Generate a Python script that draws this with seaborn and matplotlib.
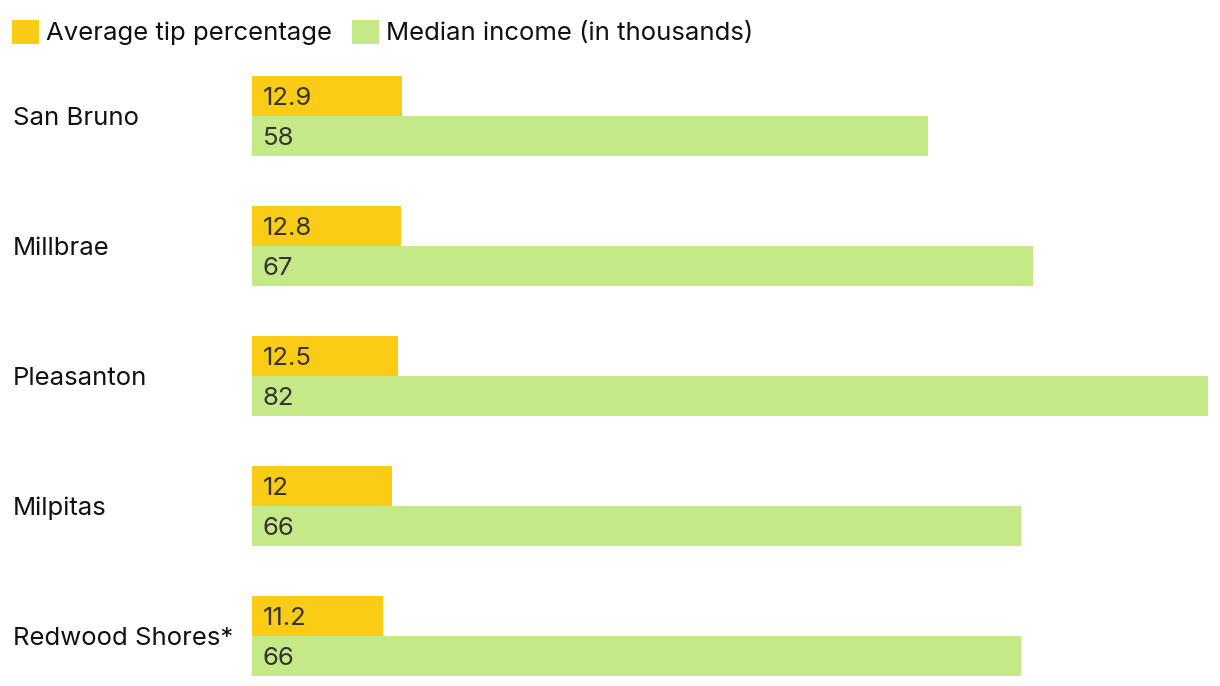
import numpy as np
import pandas as pd
import matplotlib
matplotlib.use('Agg')
import matplotlib.pyplot as plt
import seaborn as sns

cities = ['San Bruno', 'Millbrae', 'Pleasanton', 'Milpitas', 'Redwood Shores*']
tip_pct = [12.9, 12.8, 12.5, 12, 11.2]
income_k = [58, 67, 82, 66, 66]
series = ['Average tip percentage', 'Median income (in thousands)']
colors = ['#FACC15', '#C5E987']

sns.set_style('white')
plt.rcParams['font.family'] = ['Inter', 'DejaVu Sans']

df = pd.DataFrame({
    'city': cities * 2,
    'value': tip_pct + income_k,
    'series': [series[0]] * len(cities) + [series[1]] * len(cities),
})

W, H = 1220, 686
FS = 18.5
fig = plt.figure(figsize=(W / 100, H / 100), dpi=100)
ax = fig.add_axes([252 / W, 0, 956 / W, 1])

sns.barplot(data=df, x='value', y='city', hue='series', palette=colors,
            orient='h', width=80 / 130, dodge=True, ax=ax, legend=False,
            saturation=1, linewidth=0)

ax.set_xlim(0, 82)
ax.set_ylim(4 + 50 / 130, -116 / 130)
sns.despine(ax=ax, left=True, bottom=True)
ax.set_xticks([])
ax.set_xlabel('')
ax.set_ylabel('')
ax.tick_params(axis='y', length=0, pad=239 * 0.72, labelsize=FS, labelcolor='#111111')
for lbl in ax.get_yticklabels():
    lbl.set_horizontalalignment('left')
    lbl.set_verticalalignment('center_baseline')

# value labels inside each bar, left side
for cont in ax.containers:
    for bar, v in zip(cont.patches, cont.datavalues):
        yc = bar.get_y() + bar.get_height() / 2
        ax.annotate('{:g}'.format(v), (0, yc), xytext=(11 * 0.72, 0),
                    textcoords='offset points', ha='left', va='center_baseline',
                    fontsize=FS, color='#333333')

handles = [matplotlib.patches.Patch(color=c, label=s, linewidth=0) for c, s in zip(colors, series)]
fig.legend(handles=handles, loc='upper left', bbox_to_anchor=(4 / W, 1 - 12 / H),
           ncol=2, frameon=False, fontsize=FS, handlelength=1.05, handleheight=1.05,
           handletextpad=0.3, columnspacing=0.75, borderaxespad=0, borderpad=0.3,
           labelcolor='#111111')

fig.savefig('out.png', dpi=100)
